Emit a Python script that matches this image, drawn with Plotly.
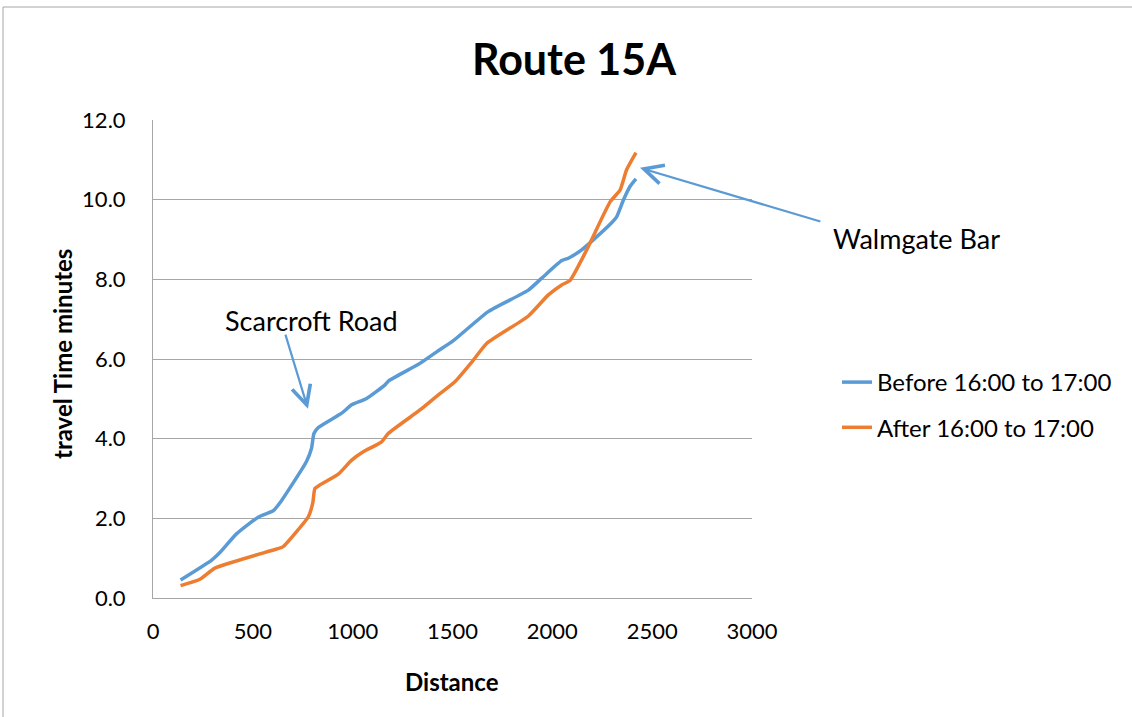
import plotly.graph_objects as go

before_dist = [138, 294, 335, 418, 527, 602, 636, 768, 794, 806, 828, 945, 995, 1070, 1162, 1180,
               1337, 1421, 1504, 1679, 1880, 1947, 2047, 2080, 2147, 2205, 2297, 2322, 2356, 2389, 2419]
before_time = [0.45, 0.95, 1.14, 1.61, 2.03, 2.19, 2.39, 3.42, 3.76, 4.13, 4.28, 4.64, 4.85, 5.01, 5.35, 5.45,
               5.89, 6.18, 6.46, 7.19, 7.73, 8.03, 8.47, 8.53, 8.74, 8.99, 9.42, 9.57, 9.99, 10.33, 10.52]

after_dist = [138, 235, 310, 619, 652, 718, 778, 800, 811, 836, 928, 995, 1053, 1145, 1178,
              1337, 1429, 1512, 1604, 1671, 1880, 1980, 2047, 2088, 2172, 2290, 2339, 2372, 2419]
after_time = [0.31, 0.47, 0.75, 1.23, 1.29, 1.66, 2.04, 2.38, 2.75, 2.84, 3.11, 3.46, 3.67, 3.92, 4.13,
              4.72, 5.10, 5.43, 5.97, 6.39, 7.08, 7.61, 7.86, 7.97, 8.74, 9.95, 10.24, 10.75, 11.18]

series_names = ["Before 16:00 to 17:00", "After 16:00 to 17:00"]
x_ticks = [0, 500, 1000, 1500, 2000, 2500, 3000]
y_ticks = [0, 2, 4, 6, 8, 10, 12]

FONT = "Lato"
BLUE = "#5b9bd5"
ORANGE = "#ed7d31"
GRID = "#a6a6a6"

fig = go.Figure()
fig.add_trace(go.Scatter(x=before_dist, y=before_time, mode="lines", name=series_names[0], legendgroup="a",
                         line=dict(color=BLUE, width=3.5, shape="spline", smoothing=0.5)))
fig.add_trace(go.Scatter(x=after_dist, y=after_time, mode="lines", name=series_names[1], legendgroup="b",
                         line=dict(color=ORANGE, width=3.5, shape="spline", smoothing=0.5)))

L, R, T, B = 153, 752, 120, 598
W, H = 1132, 717


def px(v):
    return (v - L) / (R - L)


def py(v):
    return (B - v) / (B - T)


fig.update_layout(
    width=W, height=H,
    margin=dict(l=L, r=W - R, t=T, b=H - B),
    plot_bgcolor="white", paper_bgcolor="white",
    font=dict(family=FONT, color="black", size=22),
    title=dict(text="<b>Route 15A</b>", xref="container", yref="container",
               x=574 / W, xanchor="center", y=1 - 60 / H, yanchor="middle",
               font=dict(size=43, family=FONT)),
    xaxis=dict(range=[0, 3000], tickvals=x_ticks, ticktext=[str(v) for v in x_ticks],
               showgrid=False, showline=True, linecolor=GRID, linewidth=1, zeroline=False,
               tickfont=dict(size=22), ticks="", ticklabelstandoff=14),
    yaxis=dict(range=[0, 12], tickvals=y_ticks, ticktext=["%.1f" % v for v in y_ticks],
               showgrid=True, gridcolor=GRID, gridwidth=1, showline=True, linecolor=GRID,
               linewidth=1, zeroline=False, tickfont=dict(size=22), ticks="", ticklabelstandoff=22),
    legend=dict(x=px(837), y=py(360), xanchor="left", yanchor="top", font=dict(size=24),
                bgcolor="rgba(0,0,0,0)", tracegroupgap=11),
    showlegend=True,
)

# axis titles
fig.add_annotation(x=px(452), y=py(681), xref="paper", yref="paper", text="<b>Distance</b>",
                   showarrow=False, font=dict(size=24, family=FONT), xanchor="center", yanchor="middle")
fig.add_annotation(x=px(62), y=py(354), xref="paper", yref="paper", text="<b>travel Time minutes</b>",
                   showarrow=False, textangle=-90, font=dict(size=24, family=FONT),
                   xanchor="center", yanchor="middle")

# callouts
fig.add_annotation(x=776, y=4.75, ax=661, ay=6.65, xref="x", yref="y", axref="x", ayref="y",
                   text="", showarrow=True, arrowhead=5, arrowsize=1.7, arrowwidth=2.2, arrowcolor=BLUE)
fig.add_annotation(x=px(311), y=py(320), xref="paper", yref="paper", text="Scarcroft Road",
                   showarrow=False, font=dict(size=27, family=FONT), xanchor="center", yanchor="middle")
fig.add_annotation(x=2439, y=10.80, ax=3350, ay=9.44, xref="x", yref="y", axref="x", ayref="y",
                   text="", showarrow=True, arrowhead=5, arrowsize=1.7, arrowwidth=2.2, arrowcolor=BLUE)
fig.add_annotation(x=px(916), y=py(238), xref="paper", yref="paper", text="Walmgate Bar",
                   showarrow=False, font=dict(size=27, family=FONT), xanchor="center", yanchor="middle")

# outer chart border
fig.add_shape(type="line", xref="paper", yref="paper", x0=px(3), x1=px(W + 5), y0=py(7), y1=py(7),
              line=dict(color=GRID, width=1))
fig.add_shape(type="line", xref="paper", yref="paper", x0=px(3), x1=px(3), y0=py(7), y1=py(H + 5),
              line=dict(color=GRID, width=1))

fig.write_html("out.html", config={"displayModeBar": False},
               post_script="document.body.style.margin='0';")
